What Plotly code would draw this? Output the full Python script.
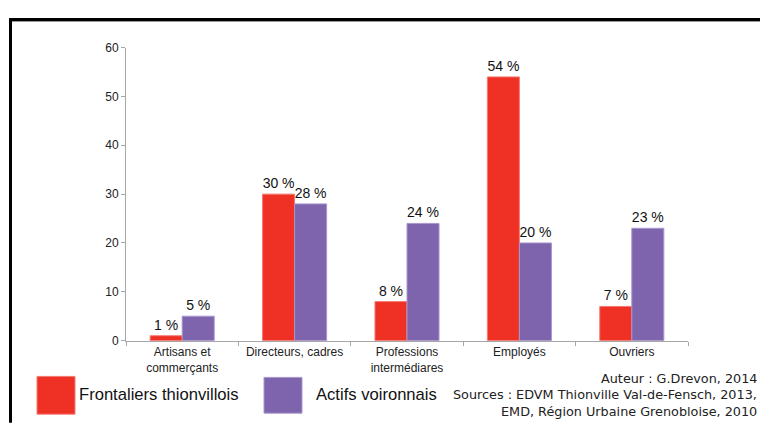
import plotly.graph_objects as go

categories = ["Artisans et<br>commerçants", "Directeurs, cadres", "Professions<br>intermédiares", "Employés", "Ouvriers"]
frontaliers = [1, 30, 8, 54, 7]
actifs = [5, 28, 24, 20, 23]
series_names = ["Frontaliers thionvillois", "Actifs voironnais"]
y_ticks = [0, 10, 20, 30, 40, 50, 60]
source_lines = ["Auteur : G.Drevon, 2014", "Sources : EDVM Thionville Val-de-Fensch, 2013,", "EMD, Région Urbaine Grenobloise, 2010"]

RED = "#EE3124"
PURPLE = "#7E64AD"
W, H = 760, 425

def px(x):
    return x / W

def py(y):
    return 1 - y / H

fig = go.Figure()
for name, vals, col, edge in [(series_names[0], frontaliers, RED, "#F47A72"), (series_names[1], actifs, PURPLE, "#A996CC")]:
    fig.add_trace(go.Bar(
        x=categories, y=vals, name=name,
        marker=dict(color=col, line=dict(color=edge, width=1)),
        text=[f"{v} %" for v in vals], textposition="outside",
        textfont=dict(family="Liberation Sans, Arial", size=14, color="#111111"),
        constraintext="none", cliponaxis=False, showlegend=False,
    ))

shapes = []
# outer frame (left and top edges)
shapes.append(dict(type="line", xref="paper", yref="paper", x0=px(10.5), x1=px(10.5), y0=py(13), y1=py(430),
                   line=dict(color="black", width=3)))
shapes.append(dict(type="line", xref="paper", yref="paper", x0=px(9), x1=px(765), y0=py(13), y1=py(13),
                   line=dict(color="black", width=3)))
shapes.append(dict(type="line", xref="paper", yref="paper", x0=px(12), x1=px(765), y0=py(15), y1=py(15),
                   line=dict(color="#999999", width=1)))
# legend squares
shapes.append(dict(type="rect", xref="paper", yref="paper", x0=px(37), x1=px(75), y0=py(382), y1=py(421),
                   fillcolor=RED, line=dict(color="#F47A72", width=1)))
shapes.append(dict(type="rect", xref="paper", yref="paper", x0=px(264), x1=px(302), y0=py(383), y1=py(420),
                   fillcolor=PURPLE, line=dict(color="#A996CC", width=1)))

annotations = [
    dict(text=series_names[0], xref="paper", yref="paper", x=px(77), y=py(401), xanchor="left", yanchor="middle",
         showarrow=False, font=dict(family="Liberation Sans, Arial", size=16.6, color="#111111")),
    dict(text=series_names[1], xref="paper", yref="paper", x=px(314), y=py(401), xanchor="left", yanchor="middle",
         showarrow=False, font=dict(family="Liberation Sans, Arial", size=16.6, color="#111111")),
]
for i, line in enumerate(source_lines):
    annotations.append(dict(text=line, xref="paper", yref="paper", x=px(759), y=py(384 + 17 * i),
                            xanchor="right", yanchor="middle", showarrow=False,
                            font=dict(family="DejaVu Sans", size=12.8, color="#222222")))

fig.update_layout(
    width=W, height=H,
    margin=dict(l=0, r=0, t=0, b=0, pad=0),
    paper_bgcolor="white", plot_bgcolor="white",
    barmode="group", bargap=0.43, bargroupgap=0,
    shapes=shapes, annotations=annotations,
    xaxis=dict(domain=[px(126), px(688)], showline=True, linecolor="#A6A6A6", linewidth=1,
               ticks="outside", tickson="boundaries", ticklen=4, tickcolor="#A6A6A6",
               tickfont=dict(family="Liberation Sans, Arial", size=12, color="#222222"),
               showgrid=False, zeroline=False),
    yaxis=dict(domain=[1 - 345 / H, 1 - 42 / H], range=[0, 60], tickvals=y_ticks,
               showline=True, linecolor="#A6A6A6", linewidth=1,
               ticks="outside", ticklen=4, tickcolor="#A6A6A6",
               tickfont=dict(family="Liberation Sans, Arial", size=12, color="#222222"),
               showgrid=False, zeroline=False),
)

post = (
    "document.documentElement.style.cssText='margin:0;padding:0;';"
    "document.body.style.cssText='margin:0;padding:0;overflow:hidden;';"
)

fig.write_html("out.html", config={"displayModeBar": False}, post_script=post)
